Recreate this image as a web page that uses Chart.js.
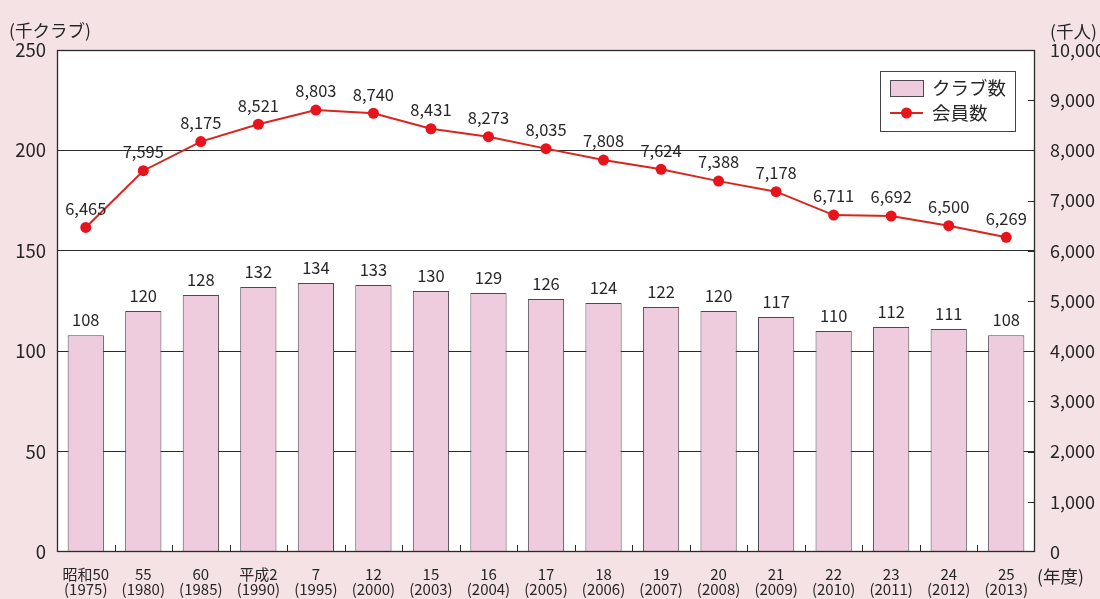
<!DOCTYPE html>
<html>
<head>
<meta charset="utf-8">
<script src="https://cdn.jsdelivr.net/npm/chart.js@4.4.1/dist/chart.umd.min.js"></script>
<style>
  html, body { margin: 0; padding: 0; background: #f4e2e4; }
  #wrap { width: 1100px; height: 599px; position: relative; }
</style>
</head>
<body>
<div id="wrap"><canvas id="c" width="1100" height="599"></canvas></div>
<script>
// 年度（和暦・西暦）
const eraLabels  = ['昭和50', '55', '60', '平成2', '7', '12', '15', '16', '17', '18', '19', '20', '21', '22', '23', '24', '25'];
const yearLabels = ['(1975)', '(1980)', '(1985)', '(1990)', '(1995)', '(2000)', '(2003)', '(2004)', '(2005)', '(2006)', '(2007)', '(2008)', '(2009)', '(2010)', '(2011)', '(2012)', '(2013)'];

// クラブ数（千クラブ）
const clubCounts = [108, 120, 128, 132, 134, 133, 130, 129, 126, 124, 122, 120, 117, 110, 112, 111, 108];
// 会員数（千人）
const memberCounts = [6465, 7595, 8175, 8521, 8803, 8740, 8431, 8273, 8035, 7808, 7624, 7388, 7178, 6711, 6692, 6500, 6269];

// 軸の範囲
const leftAxis  = { min: 0, max: 250, step: 50 };
const rightAxis = { min: 0, max: 10000, step: 1000 };

const FONT = "'Noto Sans CJK JP', 'Noto Sans', sans-serif";
const INK = '#262626';
const BAR_FILL = '#efcbde';
const BAR_EDGE = '#4e4850';
const LINE_RED = '#d8261e';
const DOT_RED = '#e8141c';

const fmt = v => v.toLocaleString('en-US');

// 背景・枠・目盛り・注記
const decor = {
  id: 'decor',
  beforeDraw(chart) {
    const { ctx, chartArea: a } = chart;
    ctx.save();
    ctx.fillStyle = '#ffffff';
    ctx.fillRect(a.left, a.top, a.right - a.left, a.bottom - a.top);
    ctx.restore();
  },
  afterDatasetsDraw(chart) {
    const { ctx, chartArea: a, scales } = chart;
    ctx.save();
    // 枠
    ctx.strokeStyle = '#2a2a2a';
    ctx.lineWidth = 1.3;
    ctx.strokeRect(a.left + 0.5, a.top + 0.5, a.right - a.left - 1, a.bottom - a.top - 1);

    // 横軸の目盛り（区切り位置、内向き）
    ctx.lineWidth = 1;
    const x = scales.x;
    for (let i = 1; i < eraLabels.length; i++) {
      const px = Math.round((x.getPixelForValue(i - 1) + x.getPixelForValue(i)) / 2) + 0.5;
      ctx.beginPath();
      ctx.moveTo(px, a.bottom);
      ctx.lineTo(px, a.bottom - 7);
      ctx.stroke();
    }
    // 右軸の目盛り（内向き）
    const y1 = scales.y1;
    for (let v = rightAxis.min + rightAxis.step; v < rightAxis.max; v += rightAxis.step) {
      const py = Math.round(y1.getPixelForValue(v)) + 0.5;
      ctx.beginPath();
      ctx.moveTo(a.right, py);
      ctx.lineTo(a.right - 7, py);
      ctx.stroke();
    }

    // 値ラベル
    ctx.fillStyle = INK;
    ctx.font = `16.5px ${FONT}`;
    ctx.textAlign = 'center';
    ctx.textBaseline = 'middle';
    chart.getDatasetMeta(1).data.forEach((el, i) => {
      ctx.fillText(String(clubCounts[i]), el.x, el.y - 15);
    });
    chart.getDatasetMeta(0).data.forEach((el, i) => {
      ctx.fillText(fmt(memberCounts[i]), el.x, el.y - 19);
    });

    // 軸タイトル
    ctx.font = `17.5px ${FONT}`;
    ctx.textAlign = 'left';
    ctx.fillText('(千クラブ)', 9, 30);
    ctx.fillText('(千人)', 1050, 31);
    ctx.fillText('(年度)', 1037, 576);

    // 凡例
    const lx = 880, ly = 71, lw = 135, lh = 60;
    ctx.fillStyle = '#ffffff';
    ctx.fillRect(lx, ly, lw, lh);
    ctx.strokeStyle = '#444';
    ctx.lineWidth = 1;
    ctx.strokeRect(lx + 0.5, ly + 0.5, lw, lh);
    ctx.fillStyle = BAR_FILL;
    ctx.fillRect(890, 80, 33, 16);
    ctx.strokeStyle = BAR_EDGE;
    ctx.strokeRect(890.5, 80.5, 33, 16);
    ctx.strokeStyle = LINE_RED;
    ctx.lineWidth = 2;
    ctx.beginPath();
    ctx.moveTo(890, 113);
    ctx.lineTo(923, 113);
    ctx.stroke();
    ctx.fillStyle = DOT_RED;
    ctx.beginPath();
    ctx.arc(906.5, 113, 5.5, 0, Math.PI * 2);
    ctx.fill();
    ctx.fillStyle = INK;
    ctx.font = `18.5px ${FONT}`;
    ctx.textBaseline = 'middle';
    ctx.fillText('クラブ数', 932, 88);
    ctx.fillText('会員数', 932, 113);
    ctx.restore();
  }
};

new Chart(document.getElementById('c'), {
  data: {
    labels: eraLabels.map((e, i) => [e, yearLabels[i]]),
    datasets: [
      {
        type: 'line',
        label: '会員数',
        data: memberCounts,
        yAxisID: 'y1',
        borderColor: LINE_RED,
        borderWidth: 2,
        tension: 0,
        pointRadius: 5.5,
        pointBackgroundColor: DOT_RED,
        pointBorderWidth: 0,
        order: 0
      },
      {
        type: 'bar',
        label: 'クラブ数',
        data: clubCounts,
        yAxisID: 'y',
        backgroundColor: BAR_FILL,
        borderColor: BAR_EDGE,
        borderWidth: 1,
        categoryPercentage: 1,
        barPercentage: 0.63,
        order: 1
      }
    ]
  },
  options: {
    responsive: false,
    animation: false,
    devicePixelRatio: 1,
    layout: { padding: { top: 50, left: 0, right: 0, bottom: 0 } },
    plugins: { legend: { display: false }, tooltip: { enabled: false } },
    scales: {
      x: {
        type: 'category',
        offset: true,
        grid: { display: false, drawTicks: false },
        border: { display: false },
        ticks: {
          color: INK,
          font: { family: FONT, size: 15, lineHeight: 1.0 },
          maxRotation: 0,
          autoSkip: false,
          padding: 15
        },
        afterFit: s => { s.height = 47; }
      },
      y: {
        position: 'left',
        min: leftAxis.min,
        max: leftAxis.max,
        grid: {
          drawTicks: false,
          color: c => (c.tick && (c.tick.value === leftAxis.min || c.tick.value === leftAxis.max)) ? 'rgba(0,0,0,0)' : '#2a2a2a',
          lineWidth: 1
        },
        border: { display: false },
        ticks: {
          stepSize: leftAxis.step,
          color: INK,
          font: { family: FONT, size: 18.5 },
          padding: 11
        },
        afterFit: s => { s.width = 57; }
      },
      y1: {
        position: 'right',
        min: rightAxis.min,
        max: rightAxis.max,
        grid: { display: false, drawTicks: false },
        border: { display: false },
        ticks: {
          stepSize: rightAxis.step,
          color: INK,
          font: { family: FONT, size: 18 },
          padding: 15,
          callback: v => fmt(v)
        },
        afterFit: s => { s.width = 65; }
      }
    }
  },
  plugins: [decor]
});
</script>
</body>
</html>
